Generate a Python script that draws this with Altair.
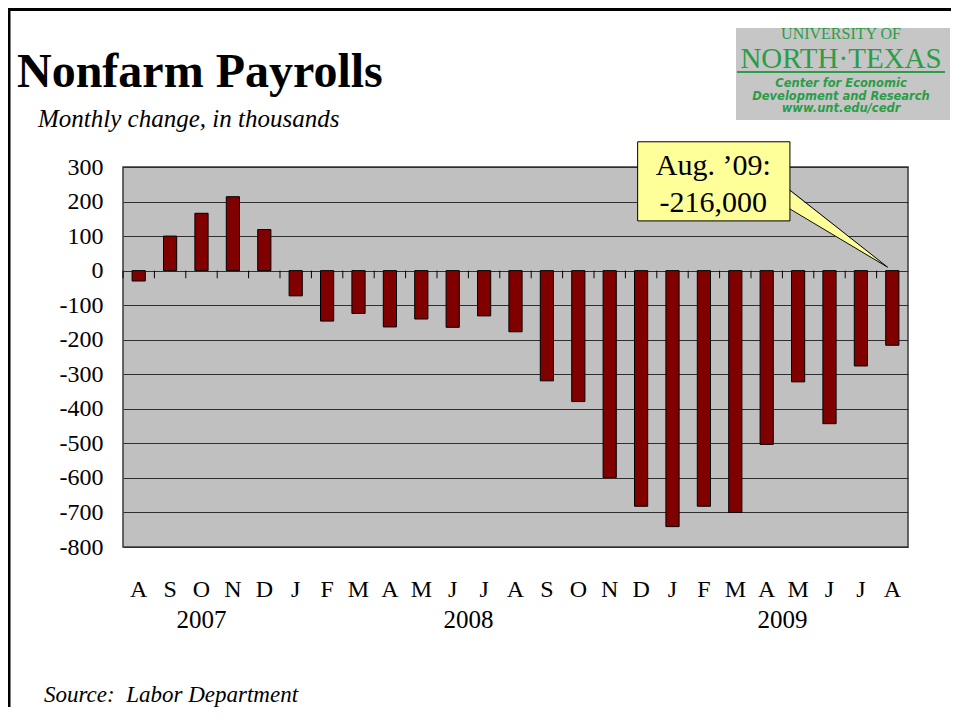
import altair as alt
import pandas as pd

# ---------------- data ----------------
periods = ["2007-08", "2007-09", "2007-10", "2007-11", "2007-12",
           "2008-01", "2008-02", "2008-03", "2008-04", "2008-05", "2008-06",
           "2008-07", "2008-08", "2008-09", "2008-10", "2008-11", "2008-12",
           "2009-01", "2009-02", "2009-03", "2009-04", "2009-05", "2009-06",
           "2009-07", "2009-08"]
changes = [-30, 100, 166, 214, 119,
           -73, -146, -124, -163, -140, -164,
           -131, -177, -319, -379, -599, -682,
           -741, -682, -700, -503, -322, -443,
           -276, -216]
y_ticks = [300, 200, 100, 0, -100, -200, -300, -400, -500, -600, -700, -800]
year_labels = ["2007", "2008", "2009"]
year_pos = [2.5, 11.0, 21.0]          # in month-index units

title_text = "Nonfarm Payrolls"
subtitle_text = "Monthly change, in thousands"
source_text = "Source:\u00a0 Labor Department"
callout_lines = ["Aug. \u201909:", "-216,000"]

# callout geometry (month-index units / thousands)
box_x = [16.39, 21.24]
box_y = [373, 144]
wedge_x = [21.2, 24.35]
wedge_top = [233, 10]
wedge_bottom = [178.4, 10]
callout_text_x = [18.8, 18.8]
callout_text_y = [277, 170]

logo_lines = ["UNIVERSITY OF", "NORTH\u00b7TEXAS", "Center for Economic",
              "Development and Research", "www.unt.edu/cedr"]

SERIF = "Liberation Serif"
GREEN = "#2a9d47"

df = pd.DataFrame({"period": periods, "change": changes})

band = alt.Scale(domain=periods, paddingInner=0, paddingOuter=0)
yscale = alt.Scale(domain=[-800, 300], nice=False)
idx = alt.Scale(domain=[0, 25], nice=False, zero=False)

month_expr = ("substring('JFMAMJJASOND', toNumber(slice(datum.value, 5)) - 1, "
              "toNumber(slice(datum.value, 5)))")

bars = alt.Chart(df).mark_bar(
    color="#800000", stroke="#000000", strokeWidth=1,
    width=alt.RelativeBandSize(0.42)
).encode(
    x=alt.X("period:N", scale=band, sort=periods,
            axis=alt.Axis(title=None, labelExpr=month_expr, labelAngle=0,
                          ticks=False, domain=False, grid=False,
                          labelFont=SERIF, labelFontSize=24, labelColor="#000000",
                          labelBaseline="alphabetic", labelPadding=49)),
    y=alt.Y("change:Q", scale=yscale,
            axis=alt.Axis(values=y_ticks, title=None, ticks=False, tickSize=0,
                          labelExpr="'' + datum.value",
                          domain=False, grid=True, gridColor="#2e2e2e",
                          gridWidth=1, labelFont=SERIF, labelFontSize=24,
                          labelColor="#000000", labelPadding=20)),
)

zero_ticks = alt.Chart(df).mark_rule(color="#000000", strokeWidth=1).encode(
    x=alt.X("period:N", scale=band, sort=periods, bandPosition=0, axis=None),
    y=alt.Y(datum=0, scale=yscale, axis=None),
    y2=alt.Y2(datum=-22),
)

# ---------------- callout ----------------
box_df = pd.DataFrame({"x0": [box_x[0]], "x1": [box_x[1]],
                       "y0": [box_y[0]], "y1": [box_y[1]]})
box = alt.Chart(box_df).mark_rect(fill="#FFFF99", stroke="#000000", strokeWidth=1).encode(
    x=alt.X("x0:Q", scale=idx, axis=None), x2="x1",
    y=alt.Y("y0:Q", scale=yscale, axis=None), y2="y1",
)

wedge_df = pd.DataFrame({"x": wedge_x, "top": wedge_top, "bottom": wedge_bottom})
wedge = alt.Chart(wedge_df).mark_area(fill="#FFFF99", opacity=1).encode(
    x=alt.X("x:Q", scale=idx, axis=None),
    y=alt.Y("top:Q", scale=yscale, axis=None), y2="bottom",
)

edge_df = pd.DataFrame({
    "x": [box_x[1], wedge_x[1], box_x[1], wedge_x[1]],
    "y": [wedge_top[0], wedge_top[1], wedge_bottom[0], wedge_bottom[1]],
    "edge": ["a", "a", "b", "b"],
})
edges = alt.Chart(edge_df).mark_line(color="#000000", strokeWidth=1).encode(
    x=alt.X("x:Q", scale=idx, axis=None),
    y=alt.Y("y:Q", scale=yscale, axis=None),
    detail="edge:N",
)

ctext_df = pd.DataFrame({"x": callout_text_x, "y": callout_text_y, "t": callout_lines})
ctext = alt.Chart(ctext_df).mark_text(
    font=SERIF, fontSize=30, align="center", baseline="alphabetic", color="#000000"
).encode(
    x=alt.X("x:Q", scale=idx, axis=None),
    y=alt.Y("y:Q", scale=yscale, axis=None),
    text="t:N",
)

# ---------------- year labels ----------------
year_df = pd.DataFrame({"x": year_pos, "t": year_labels})
years = alt.Chart(year_df).mark_text(
    font=SERIF, fontSize=25, align="center", baseline="alphabetic", color="#000000"
).encode(
    x=alt.X("x:Q", scale=idx, axis=None),
    y=alt.value(461),
    text="t:N",
)

# ---------------- text & decoration ----------------
def text_layer(txt, x, y, size, **kw):
    return alt.Chart(pd.DataFrame({"t": [txt]})).mark_text(
        fontSize=size, baseline="alphabetic", **kw
    ).encode(x=alt.value(x), y=alt.value(y), text="t:N")

one = pd.DataFrame({"a": [0]})

title = text_layer(title_text, -106, -80, 48, font=SERIF, fontWeight="bold",
                   align="left", color="#000000")
subtitle = text_layer(subtitle_text, -85, -40, 25, font=SERIF, fontStyle="italic",
                      align="left", color="#000000")
source = text_layer(source_text, -79, 535, 23, font=SERIF, fontStyle="italic",
                    align="left", color="#000000")

frame_top = alt.Chart(one).mark_rule(color="#000000", strokeWidth=3).encode(
    x=alt.value(-115), x2=alt.value(832), y=alt.value(-157.5))
frame_left = alt.Chart(one).mark_rule(color="#000000", strokeWidth=3).encode(
    x=alt.value(-114), y=alt.value(-159), y2=alt.value(560))

logo_bg = alt.Chart(one).mark_rect(fill="#c6c6c6").encode(
    x=alt.value(613), x2=alt.value(827), y=alt.value(-139), y2=alt.value(-47))
logo_rule = alt.Chart(one).mark_rule(color=GREEN, strokeWidth=2).encode(
    x=alt.value(614), x2=alt.value(822), y=alt.value(-95))
LX = 718
logo1 = text_layer(logo_lines[0], LX, -127.7, 16, font=SERIF, align="center", color=GREEN)
logo2 = text_layer(logo_lines[1], LX, -98.7, 29, font=SERIF, align="center", color=GREEN)
logo3 = text_layer(logo_lines[2], LX, -80, 11.5, font="DejaVu Sans", fontWeight="bold",
                   fontStyle="italic", align="center", color=GREEN)
logo4 = text_layer(logo_lines[3], LX, -67.5, 11.5, font="DejaVu Sans", fontWeight="bold",
                   fontStyle="italic", align="center", color=GREEN)
logo5 = text_layer(logo_lines[4], LX, -55, 11.5, font="DejaVu Sans", fontWeight="bold",
                   fontStyle="italic", align="center", color=GREEN)

chart = alt.layer(
    bars, zero_ticks, wedge, box, edges, ctext, years,
    title, subtitle, source, frame_top, frame_left,
    logo_bg, logo_rule, logo1, logo2, logo3, logo4, logo5,
).resolve_scale(x="independent").resolve_axis(y="independent").properties(
    width=785, height=380,
    padding={"left": 115, "top": 159, "right": 43, "bottom": 160},
    autosize=alt.AutoSizeParams(type="none"),
    background="#ffffff",
).configure_view(
    fill="#C0C0C0", stroke="#3a3a3a", strokeWidth=1.5
).configure_axis(
    labelFont=SERIF, labelFontSize=24, labelColor="#000000"
)

chart.save("out.html", embed_options={"renderer": "svg", "actions": False})
